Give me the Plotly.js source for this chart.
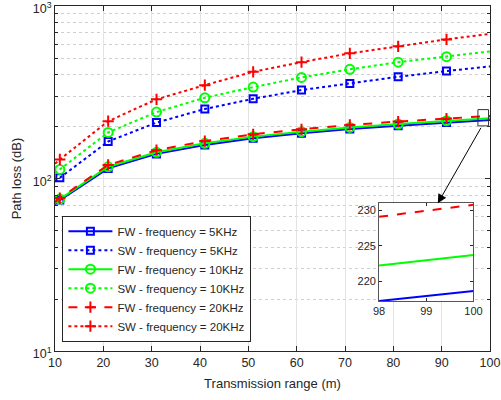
<!DOCTYPE html>
<html>
<head>
<meta charset="utf-8">
<script src="https://cdn.plot.ly/plotly-3.0.1.min.js"></script>
<style>html,body{margin:0;padding:0;background:#fff}#chart{width:501px;height:400px}</style>
</head>
<body>
<div id="chart"></div>
<script>
// ---- data ----
var xRange = [10, 11, 21, 31, 41, 51, 61, 71, 81, 91, 100];
var fw5  = [71, 75, 114.5, 139, 156.5, 171, 183, 194, 202.5, 211.5, 218.6];
var sw5  = [96, 101, 164, 211, 253, 290, 326, 356, 389, 420, 447];
var fw10 = [72, 76, 117, 142, 160, 175, 187, 198, 207, 216, 223.7];
var sw10 = [107, 113, 185, 243, 294, 339, 386, 430, 473, 509, 546];
var fw20 = [73, 77, 120, 146, 165, 180.5, 193, 204.5, 214, 223, 230.8];
var sw20 = [122, 129, 215, 288, 348, 416, 473, 532, 584, 641, 690];
var markerIdx = [1, 2, 3, 4, 5, 6, 7, 8, 9];

var seriesNames = ['FW - frequency = 5KHz', 'SW - frequency = 5KHz',
                   'FW - frequency = 10KHz', 'SW - frequency = 10KHz',
                   'FW - frequency = 20KHz', 'SW - frequency = 20KHz'];

// zoomed inset
var insetX = [98, 100];
var insetFw5  = [217.2, 218.6];
var insetFw10 = [222.2, 223.7];
var insetFw20 = [229.1, 230.8];

var yTickVals = [10, 100, 1000];
var yTickText = ['10<sup>1</sup>', '10<sup>2</sup>', '10<sup>3</sup>'];
var xTickVals = [10, 20, 30, 40, 50, 60, 70, 80, 90, 100];

// ---- styles ----
var BLUE = '#0000FF', GREEN = '#00FF00', RED = '#FF0000';
var TXT = '#262626';

function series(y, name, color, dash, symbol, msize) {
  return {
    x: xRange, y: y, name: name, type: 'scatter', mode: 'lines+markers',
    xaxis: 'x', yaxis: 'y',
    line: {color: color, width: 2, dash: dash},
    marker: {symbol: symbol, size: msize, color: color, line: {color: color, width: 2}},
    selectedpoints: markerIdx,
    selected: {marker: {opacity: 1}},
    unselected: {marker: {opacity: 0}}
  };
}

var data = [
  series(fw5,  seriesNames[0], BLUE,  'solid', 'square-open', 7),
  series(sw5,  seriesNames[1], BLUE,  'dot',   'square-open', 7),
  series(fw10, seriesNames[2], GREEN, 'solid', 'circle-open', 9),
  series(sw10, seriesNames[3], GREEN, 'dot',   'circle-open', 9),
  series(fw20, seriesNames[4], RED,   'dash',  'cross-thin-open', 8),
  series(sw20, seriesNames[5], RED,   'dot',   'cross-thin-open', 8),
  {x: insetX, y: insetFw5, xaxis: 'x2', yaxis: 'y2', mode: 'lines', showlegend: false,
   line: {color: BLUE, width: 2}},
  {x: insetX, y: insetFw10, xaxis: 'x2', yaxis: 'y2', mode: 'lines', showlegend: false,
   line: {color: GREEN, width: 2}},
  {x: insetX, y: insetFw20, xaxis: 'x2', yaxis: 'y2', mode: 'lines', showlegend: false,
   line: {color: RED, width: 2, dash: 'dash'}}
];

var layout = {
  width: 501, height: 400,
  margin: {l: 55, r: 11, t: 6, b: 49},
  paper_bgcolor: '#fff', plot_bgcolor: '#fff',
  font: {family: 'Liberation Sans, Arial, sans-serif', size: 12, color: TXT},
  showlegend: true,
  legend: {
    x: 0.017, y: 0.027, xanchor: 'left', yanchor: 'bottom',
    bgcolor: '#fff', bordercolor: TXT, borderwidth: 1,
    font: {size: 11.5, color: TXT}, itemwidth: 44, tracegroupgap: 0
  },
  xaxis: {
    range: [10, 100], tickmode: 'array', tickvals: xTickVals,
    ticks: 'inside', ticklen: 5, tickcolor: TXT, tickfont: {size: 12.5, color: TXT},
    showline: true, linecolor: TXT, linewidth: 1, mirror: 'allticks',
    showgrid: true, gridcolor: '#e3e3e3', gridwidth: 1, zeroline: false,
    ticklabeloverflow: 'allow',
    title: {text: 'Transmission range (m)', font: {size: 13, color: TXT}, standoff: 9}
  },
  yaxis: {
    type: 'log', range: [1, 3.0005], tickmode: 'array', tickvals: yTickVals, ticktext: yTickText,
    ticks: 'inside', ticklen: 5, tickcolor: TXT, tickfont: {size: 12.5, color: TXT},
    showline: true, linecolor: TXT, linewidth: 1, mirror: 'allticks',
    showgrid: true, gridcolor: '#e3e3e3', gridwidth: 1, zeroline: false,
    ticklabeloverflow: 'allow', ticklabelshift: 3,
    minor: {dtick: 'D1', ticks: 'inside', ticklen: 3, tickcolor: TXT,
            showgrid: true, gridcolor: '#cfcfcf', griddash: 'dot', gridwidth: 1},
    title: {text: 'Path loss (dB)', font: {size: 13, color: TXT}, standoff: 8}
  },
  xaxis2: {
    domain: [0.745, 0.962], anchor: 'y2', range: [98, 100],
    tickmode: 'array', tickvals: [98, 99, 100],
    ticks: 'inside', ticklen: 3, tickcolor: TXT, tickfont: {size: 11, color: TXT},
    showline: true, linecolor: '#555', linewidth: 1, mirror: 'allticks',
    showgrid: false, zeroline: false
  },
  yaxis2: {
    domain: [0.145, 0.428], anchor: 'x2', range: [217.2, 231],
    tickmode: 'array', tickvals: [220, 225, 230],
    ticks: 'inside', ticklen: 3, tickcolor: TXT, tickfont: {size: 11, color: TXT},
    showline: true, linecolor: '#555', linewidth: 1, mirror: 'allticks',
    showgrid: false, zeroline: false
  },
  shapes: [
    {type: 'rect', xref: 'x2 domain', yref: 'y2 domain', x0: 0, x1: 1, y0: 0, y1: 1,
     fillcolor: '#fff', line: {width: 0}, layer: 'below'},
    {type: 'rect', xref: 'x', yref: 'y', x0: 97.5, x1: 99.7, y0: 202, y1: 251,
     line: {color: '#333', width: 1}, fillcolor: 'rgba(0,0,0,0)', layer: 'above'}
  ],
  annotations: [
    {xref: 'paper', yref: 'paper', x: 0.880, y: 0.428, text: '', showarrow: true,
     axref: 'pixel', ayref: 'pixel', ax: 44, ay: -77,
     arrowhead: 2, arrowsize: 1.8, arrowwidth: 1, arrowcolor: '#000', standoff: 0}
  ]
};

Plotly.newPlot('chart', data, layout, {displayModeBar: false, staticPlot: true});
</script>
</body>
</html>
